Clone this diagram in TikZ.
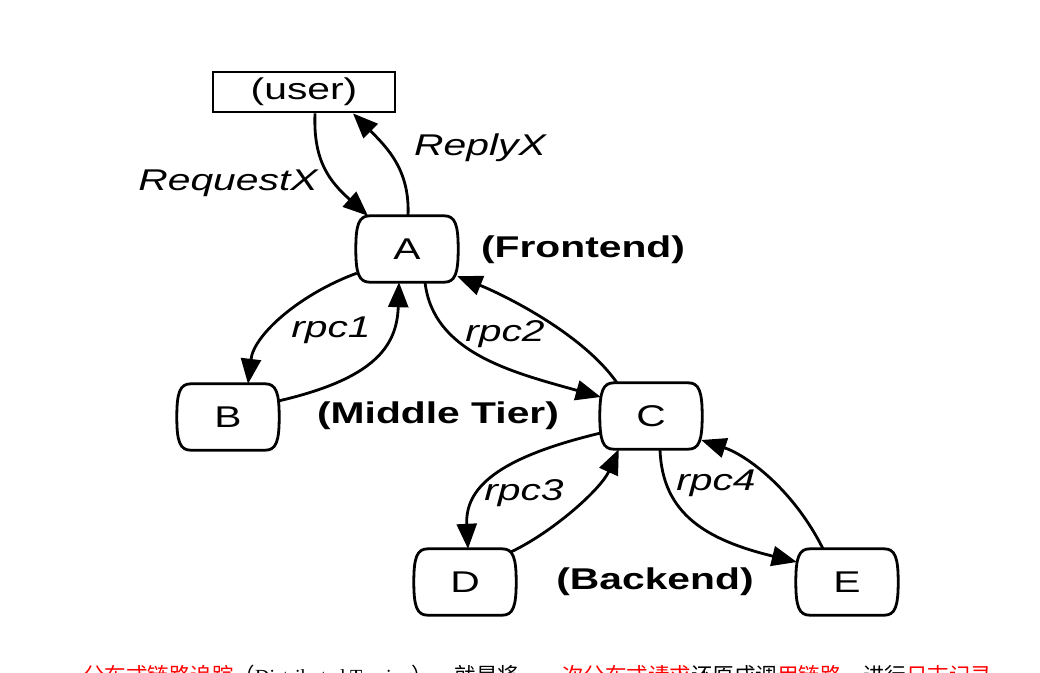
\documentclass[tikz,border=0pt]{standalone}
\usepackage{fontspec}
\newfontfamily\lblfont{Liberation Sans}[FakeStretch=1.36]
\newfontfamily\cjkfont{Noto Sans CJK SC}
\newfontfamily\enserif{Liberation Serif}
\usetikzlibrary{arrows.meta}
\tikzset{
  boxline/.style={line width=2.8pt, black},
  tbox/.style={rectangle, draw=none, minimum width=100pt, minimum height=66pt, inner sep=0pt,
    font=\lblfont\fontsize{30}{35}\selectfont},
  userbox/.style={rectangle, draw, line width=2.8pt, minimum width=182pt, minimum height=40pt, inner sep=0pt,
    font=\lblfont\fontsize{30}{35}\selectfont},
  tierlbl/.style={inner sep=0pt, font=\lblfont\bfseries\fontsize{30}{35}\selectfont},
  edgelbl/.style={inner sep=0pt, anchor=base, font=\lblfont\itshape\fontsize{30}{35}\selectfont},
  edge/.style={line width=2.8pt, -{Triangle[length=25pt,width=20pt]}},
}
\newcommand\termoutline[1]{%
  \draw[boxline] ([xshift=13pt]#1.north west) -- ([xshift=-13pt]#1.north east)
    .. controls ([xshift=-2pt]#1.north east) and ([xshift=1pt,yshift=-9pt]#1.north east) .. ([xshift=1pt]#1.east)
    .. controls ([xshift=1pt,yshift=9pt]#1.south east) and ([xshift=-2pt]#1.south east) .. ([xshift=-13pt]#1.south east)
    -- ([xshift=13pt]#1.south west)
    .. controls ([xshift=2pt]#1.south west) and ([xshift=-1pt,yshift=9pt]#1.south west) .. ([xshift=-1pt]#1.west)
    .. controls ([xshift=-1pt,yshift=-9pt]#1.north west) and ([xshift=2pt]#1.north west) .. cycle;}
\begin{document}
\begin{tikzpicture}[x=1pt,y=-1pt]
\fill[white] (0,0) rectangle (1040,672);
\useasboundingbox (0,0) rectangle (1040,672);

% nodes
\node[userbox] (user) at (304,92) {(user)};
\node[tbox] (A) at (407,249) {A};
\node[tbox] (B) at (228,417) {B};
\node[tbox] (C) at (651,416) {C};
\node[tbox] (D) at (465,582) {D};
\node[tbox] (E) at (847,582) {E};
\termoutline{A}
\termoutline{B}
\termoutline{C}
\termoutline{D}
\termoutline{E}

% tier labels
\node[tierlbl] (front) at (583,250) {(Frontend)};
\node[tierlbl] (middle) at (438,416) {(Middle Tier)};
\node[tierlbl] (back) at (655,582) {(Backend)};

% edge labels
\node[edgelbl] (lreq) at (228,190) {RequestX};
\node[edgelbl] (lrep) at (480,155) {ReplyX};
\node[edgelbl] (lr1) at (331,337) {rpc1};
\node[edgelbl] (lr2) at (505,341) {rpc2};
\node[edgelbl] (lr3) at (524,500) {rpc3};
\node[edgelbl] (lr4) at (716,490) {rpc4};

% connectors
\draw[edge] ([xshift=11pt]user.south) .. controls +(-2,48) and +(-38,-34) .. ([xshift=-39pt]A.north);
\draw[edge] ([xshift=1pt]A.north) .. controls +(2,-45) and +(35,35) .. ([xshift=49pt]user.south);
\draw[edge] ([yshift=9pt]A.south west) .. controls +(-55,20) and +(6,-50) .. ([xshift=20pt]B.north);
\draw[edge] ([yshift=16pt]B.east) .. controls +(95,-22) and +(-2,65) .. ([xshift=-8pt]A.south);
\draw[edge] ([xshift=18pt]A.south) .. controls +(8,70) and +(-90,-25) .. ([yshift=19pt]C.west);
\draw[edge] ([xshift=-34pt]C.north) .. controls +(-35,-50) and +(45,18) .. ([yshift=6pt]A.south east);
\draw[edge] ([yshift=-17pt]C.west) .. controls +(-105,25) and +(-3,-60) .. ([xshift=3pt]D.north);
\draw[edge] ([xshift=-4pt,yshift=-3pt]D.north east) .. controls +(42,-20) and +(-18,40) .. ([xshift=18pt]C.south west);
\draw[edge] ([xshift=9pt]C.south) .. controls +(2,65) and +(-90,-22) .. ([yshift=20pt]E.west);
\draw[edge] ([xshift=-24pt]E.north) .. controls +(-30,-60) and +(45,15) .. ([yshift=-24pt]C.east);

% caption (cut off by the page edge)
\node[anchor=base west, inner sep=0pt, font=\cjkfont\fontsize{21.5}{24}\selectfont] (caption) at (83,683)
  {\textcolor{red}{分布式链路追踪}（{\enserif\fontsize{20}{24}\selectfont Distributed Tracing}），就是将\hspace{21.5pt}\textcolor{red}{一次分布式请求}还原成调\textcolor{red}{用链路}，进行\textcolor{red}{日志记录}};
\end{tikzpicture}
\end{document}
